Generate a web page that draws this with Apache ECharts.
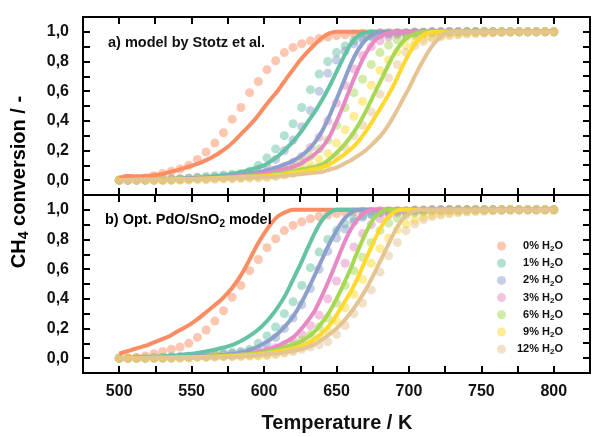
<!DOCTYPE html>
<html>
<head>
<meta charset="utf-8">
<script src="https://cdn.jsdelivr.net/npm/echarts@6/dist/echarts.min.js"></script>
<style>html,body{margin:0;padding:0;background:#fff}#c{width:592px;height:437px}</style>
</head>
<body>
<div id="c"></div>
<script>
// ---- Data ----
const seriesNames = ['0% H2O','1% H2O','2% H2O','3% H2O','6% H2O','9% H2O','12% H2O'];
const seriesColors = ['#fc8d62','#66c2a5','#8da0cb','#e78ac3','#a6d854','#ffd92f','#e5c494'];
const xMajorTicks = [500,550,600,650,700,750,800];
const xMinorTicks = [525,575,625,675,725,775];
const yMajorTicks = [0,0.2,0.4,0.6,0.8,1.0];
const yMinorTicks = [0.1,0.3,0.5,0.7,0.9];

// measured temperatures (K)
const tempMeas = [500,506,512,518,524,530,536,542,548,554,560,566,572,578,584,590,596,602,608,614,620,626,632,638,644,650,656,662,668,674,680,686,692,698,704,710,716,722,728,734,740,746,752,758,764,770,776,782,788,794,800];
// measured CH4 conversion
const meas0 = [0,0,0.005,0.015,0.03,0.045,0.06,0.075,0.10,0.14,0.19,0.25,0.32,0.41,0.49,0.59,0.665,0.745,0.805,0.86,0.895,0.92,0.94,0.955,0.965,0.975,0.98,0.985,0.99,0.99,0.995,0.995,0.995,0.995,1,1,1,1,1,1,1,1,1,1,1,1,1,1,1,1,1];
const meas1 = [0,0,0,0,0.005,0.005,0.01,0.01,0.015,0.02,0.025,0.03,0.035,0.04,0.045,0.06,0.10,0.15,0.21,0.30,0.38,0.49,0.61,0.715,0.80,0.86,0.905,0.94,0.96,0.97,0.98,0.985,0.99,0.99,0.995,0.995,1,1,1,1,1,1,1,1,1,1,1,1,1,1,1];
const meas2 = [0,0,0,0,0,0.005,0.005,0.01,0.01,0.015,0.015,0.02,0.025,0.03,0.035,0.045,0.06,0.09,0.14,0.20,0.27,0.36,0.47,0.60,0.72,0.81,0.87,0.92,0.95,0.97,0.98,0.985,0.99,0.99,0.995,0.995,1,1,1,1,1,1,1,1,1,1,1,1,1,1,1];
const meas3 = [0,0,0,0,0,0,0.005,0.005,0.01,0.01,0.01,0.015,0.015,0.02,0.025,0.03,0.04,0.055,0.07,0.09,0.12,0.16,0.22,0.29,0.40,0.52,0.64,0.75,0.84,0.90,0.94,0.965,0.98,0.985,0.99,0.99,0.995,0.995,1,1,1,1,1,1,1,1,1,1,1,1,1];
const meas6 = [0,0,0,0,0,0,0,0.005,0.005,0.01,0.01,0.015,0.015,0.02,0.02,0.025,0.03,0.035,0.05,0.07,0.09,0.12,0.16,0.21,0.27,0.37,0.49,0.59,0.68,0.78,0.86,0.91,0.945,0.965,0.975,0.985,0.99,0.99,0.995,0.995,1,1,1,1,1,1,1,1,1,1,1];
const meas9 = [0,0,0,0,0,0,0,0,0.005,0.005,0.005,0.01,0.01,0.01,0.015,0.015,0.02,0.02,0.03,0.04,0.055,0.075,0.10,0.14,0.18,0.25,0.34,0.43,0.53,0.64,0.74,0.81,0.865,0.905,0.93,0.95,0.965,0.975,0.98,0.985,0.99,0.99,0.995,0.995,1,1,1,1,1,1,1];
const meas12 = [0,0,0,0,0,0,0,0,0,0.005,0.005,0.005,0.01,0.01,0.01,0.015,0.015,0.02,0.025,0.035,0.045,0.06,0.075,0.09,0.11,0.16,0.22,0.30,0.37,0.46,0.58,0.69,0.78,0.86,0.905,0.935,0.955,0.965,0.975,0.98,0.985,0.99,0.99,0.995,0.995,1,1,1,1,1,1];

// model temperatures (K)
const tempModel = [500,505,510,515,520,525,530,535,540,545,550,555,560,565,570,575,580,585,590,595,600,605,610,615,620,625,630,635,640,645,650,655,660,665,670,675,680,685,690,695,700,705,710,715,720,725,730,735,740,745,750,755,760,765,770,775,780,785,790,795,800];
// a) model by Stotz et al.
const stotz0 = [0.015,0.028,0.027,0.027,0.03,0.035,0.042,0.055,0.068,0.082,0.097,0.113,0.135,0.16,0.19,0.225,0.27,0.32,0.37,0.425,0.49,0.55,0.61,0.68,0.745,0.81,0.865,0.915,0.96,0.99,1,1,1,1,1,1,1,1,1,1,1,1,1,1,1,1,1,1,1,1,1,1,1,1,1,1,1,1,1,1,1];
const stotz1 = [0,0.002,0.003,0.004,0.005,0.006,0.008,0.009,0.01,0.012,0.015,0.017,0.02,0.025,0.03,0.037,0.045,0.055,0.07,0.085,0.10,0.13,0.165,0.21,0.26,0.32,0.39,0.46,0.54,0.63,0.73,0.83,0.92,0.975,0.995,1,1,1,1,1,1,1,1,1,1,1,1,1,1,1,1,1,1,1,1,1,1,1,1,1,1];
const stotz2 = [0,0.001,0.002,0.003,0.004,0.005,0.006,0.007,0.008,0.009,0.01,0.012,0.014,0.017,0.02,0.025,0.03,0.037,0.045,0.052,0.06,0.075,0.09,0.11,0.13,0.16,0.20,0.255,0.33,0.43,0.545,0.665,0.785,0.88,0.945,0.98,1,1,1,1,1,1,1,1,1,1,1,1,1,1,1,1,1,1,1,1,1,1,1,1,1];
const stotz3 = [0,0.001,0.002,0.003,0.004,0.005,0.006,0.007,0.008,0.009,0.01,0.011,0.013,0.015,0.018,0.021,0.025,0.03,0.035,0.04,0.045,0.055,0.065,0.077,0.09,0.11,0.14,0.175,0.22,0.29,0.395,0.51,0.635,0.75,0.85,0.925,0.97,0.99,1,1,1,1,1,1,1,1,1,1,1,1,1,1,1,1,1,1,1,1,1,1,1];
const stotz6 = [0,0.001,0.002,0.003,0.004,0.004,0.005,0.006,0.007,0.008,0.009,0.01,0.012,0.014,0.016,0.018,0.02,0.023,0.026,0.028,0.03,0.037,0.045,0.052,0.06,0.07,0.08,0.09,0.105,0.14,0.185,0.235,0.295,0.37,0.46,0.56,0.66,0.76,0.855,0.925,0.97,0.99,1,1,1,1,1,1,1,1,1,1,1,1,1,1,1,1,1,1,1];
const stotz9 = [0,0.001,0.002,0.002,0.003,0.003,0.004,0.005,0.006,0.007,0.008,0.009,0.01,0.012,0.014,0.016,0.018,0.02,0.022,0.024,0.026,0.03,0.035,0.042,0.05,0.057,0.065,0.075,0.085,0.105,0.135,0.17,0.21,0.26,0.325,0.40,0.48,0.56,0.65,0.755,0.85,0.93,0.98,0.997,1,1,1,1,1,1,1,1,1,1,1,1,1,1,1,1,1];
const stotz12 = [0,0,0.001,0.002,0.002,0.003,0.003,0.004,0.005,0.006,0.007,0.008,0.009,0.01,0.012,0.013,0.015,0.016,0.018,0.019,0.02,0.022,0.025,0.03,0.035,0.04,0.045,0.05,0.055,0.07,0.085,0.11,0.135,0.165,0.20,0.245,0.295,0.36,0.44,0.53,0.62,0.72,0.81,0.89,0.95,0.99,1,1,1,1,1,1,1,1,1,1,1,1,1,1,1];
// b) Opt. PdO/SnO2 model
const opt0 = [0.03,0.045,0.06,0.075,0.09,0.11,0.13,0.15,0.18,0.205,0.235,0.27,0.31,0.35,0.39,0.44,0.50,0.575,0.665,0.76,0.84,0.91,0.96,0.985,1,1,1,1,1,1,1,1,1,1,1,1,1,1,1,1,1,1,1,1,1,1,1,1,1,1,1,1,1,1,1,1,1,1,1,1,1];
const opt1 = [0,0.002,0.004,0.006,0.008,0.01,0.013,0.016,0.02,0.025,0.03,0.037,0.045,0.055,0.067,0.08,0.097,0.12,0.15,0.185,0.23,0.285,0.35,0.43,0.53,0.63,0.74,0.845,0.93,0.98,1,1,1,1,1,1,1,1,1,1,1,1,1,1,1,1,1,1,1,1,1,1,1,1,1,1,1,1,1,1,1];
const opt2 = [0,0.001,0.002,0.003,0.004,0.005,0.006,0.007,0.008,0.009,0.01,0.012,0.015,0.017,0.02,0.025,0.03,0.04,0.055,0.075,0.10,0.13,0.17,0.22,0.28,0.36,0.455,0.56,0.665,0.77,0.86,0.935,0.98,1,1,1,1,1,1,1,1,1,1,1,1,1,1,1,1,1,1,1,1,1,1,1,1,1,1,1,1];
const opt3 = [0,0.001,0.001,0.002,0.002,0.003,0.004,0.005,0.006,0.007,0.008,0.009,0.01,0.012,0.015,0.017,0.02,0.025,0.03,0.04,0.05,0.065,0.085,0.11,0.14,0.19,0.25,0.32,0.42,0.53,0.65,0.77,0.87,0.94,0.985,1,1,1,1,1,1,1,1,1,1,1,1,1,1,1,1,1,1,1,1,1,1,1,1,1,1];
const opt6 = [0,0.001,0.001,0.002,0.002,0.003,0.003,0.004,0.005,0.006,0.007,0.008,0.01,0.012,0.014,0.017,0.02,0.024,0.028,0.034,0.04,0.05,0.06,0.075,0.09,0.11,0.14,0.18,0.24,0.31,0.40,0.50,0.61,0.73,0.84,0.93,0.98,1,1,1,1,1,1,1,1,1,1,1,1,1,1,1,1,1,1,1,1,1,1,1,1];
const opt9 = [0,0,0.001,0.001,0.002,0.002,0.003,0.003,0.004,0.005,0.006,0.007,0.008,0.01,0.011,0.013,0.015,0.018,0.021,0.025,0.03,0.037,0.045,0.055,0.065,0.08,0.10,0.13,0.17,0.22,0.29,0.37,0.45,0.55,0.66,0.77,0.87,0.945,0.985,1,1,1,1,1,1,1,1,1,1,1,1,1,1,1,1,1,1,1,1,1,1];
const opt12 = [0,0,0,0.001,0.001,0.002,0.002,0.003,0.003,0.004,0.004,0.005,0.005,0.006,0.007,0.008,0.01,0.013,0.016,0.02,0.025,0.03,0.035,0.042,0.05,0.06,0.075,0.095,0.125,0.16,0.20,0.25,0.31,0.38,0.46,0.55,0.65,0.75,0.85,0.93,0.975,0.995,1,1,1,1,1,1,1,1,1,1,1,1,1,1,1,1,1,1,1];

const measured = [meas0,meas1,meas2,meas3,meas6,meas9,meas12];
const modelA = [stotz0,stotz1,stotz2,stotz3,stotz6,stotz9,stotz12];
const modelB = [opt0,opt1,opt2,opt3,opt6,opt9,opt12];

// ---- Chart ----
const FONT = '"Liberation Sans", Arial, Helvetica, sans-serif';
const X_MIN = 475, X_MAX = 825, Y_MIN = -0.1, Y_MAX = 1.1;
const chart = echarts.init(document.getElementById('c'));

const grids = [
  {left: 83, top: 17, width: 507, height: 178, show: true, borderColor: '#000', borderWidth: 2},
  {left: 83, top: 195, width: 507, height: 178, show: true, borderColor: '#000', borderWidth: 2}
];
const tickStyle = {show: true, inside: true, length: 7, lineStyle: {color: '#000', width: 2}};

// main axes: ticks every 25 K / 0.1 (min is a multiple of the interval)
const xAxes = [0, 1].map(g => ({
  gridIndex: g, type: 'value', min: X_MIN, max: X_MAX, interval: 25,
  axisLine: {show: false, onZero: false}, axisTick: tickStyle, splitLine: {show: false},
  axisLabel: g === 1 ? {show: true, customValues: xMajorTicks, color: '#111', fontFamily: FONT, fontWeight: 'bold', fontSize: 16, margin: 11, formatter: v => String(v)} : {show: false}
}));
const yAxes = [0, 1].map(g => ({
  gridIndex: g, type: 'value', min: Y_MIN, max: Y_MAX, interval: 0.1,
  axisLine: {show: false, onZero: false}, axisTick: tickStyle, splitLine: {show: false},
  axisLabel: {show: true, customValues: yMajorTicks, color: '#111', fontFamily: FONT, fontWeight: 'bold', fontSize: 16, margin: 14,
    formatter: v => v.toFixed(1).replace('.', ',')}
}));

const series = [];
for (let g = 0; g < 2; g++) {
  for (let k = 0; k < seriesNames.length; k++) {
    series.push({
      name: seriesNames[k], type: 'scatter', xAxisIndex: g, yAxisIndex: g,
      data: tempMeas.map((t, i) => [t, measured[k][i]]),
      symbol: 'circle', symbolSize: 9,
      itemStyle: {color: seriesColors[k], opacity: 0.5}
    });
  }
  const models = g === 0 ? modelA : modelB;
  for (let k = 0; k < seriesNames.length; k++) {
    series.push({
      name: (g === 0 ? 'Stotz ' : 'Opt ') + seriesNames[k], type: 'line', xAxisIndex: g, yAxisIndex: g,
      data: tempModel.map((t, i) => [t, models[k][i]]),
      showSymbol: false, symbol: 'none', smooth: 0.25,
      lineStyle: {color: seriesColors[k], width: 4}, itemStyle: {color: seriesColors[k]}
    });
  }
}

const subRich = {
  b: {fontFamily: FONT, fontWeight: 'bold', fontSize: 20, color: '#111', lineHeight: 24},
  s: {fontFamily: FONT, fontWeight: 'bold', fontSize: 14, color: '#111', lineHeight: 9, verticalAlign: 'bottom'}
};
const texts = [
  {id: 't0', type: 'text', x: 19, y: 182, rotation: Math.PI / 2, z: 100,
   style: {text: '{b|CH}{s|4}{b| conversion / -}', rich: subRich, align: 'center', verticalAlign: 'middle'}},
  {id: 't1', type: 'text', x: 337, y: 423, z: 100,
   style: {text: 'Temperature / K', fontFamily: FONT, fontWeight: 'bold', fontSize: 20, fill: '#111', align: 'center', verticalAlign: 'middle'}},
  {id: 't2', type: 'text', x: 108, y: 43, z: 100,
   style: {text: 'a) model by Stotz et al.', fontFamily: FONT, fontWeight: 'bold', fontSize: 14.5, fill: '#111', align: 'left', verticalAlign: 'middle'}},
  {id: 't3', type: 'text', x: 105, y: 220, z: 100,
   style: {text: '{b|b) Opt. PdO/SnO}{s|2}{b| model}', align: 'left', verticalAlign: 'middle',
     rich: {
       b: {fontFamily: FONT, fontWeight: 'bold', fontSize: 14.5, color: '#111', lineHeight: 18},
       s: {fontFamily: FONT, fontWeight: 'bold', fontSize: 10, color: '#111', lineHeight: 6, verticalAlign: 'bottom'}
     }}}
];

chart.setOption({
  animation: false,
  grid: grids,
  xAxis: xAxes,
  yAxis: yAxes,
  legend: {
    data: seriesNames.map(n => ({name: n, itemStyle: {opacity: 0.5}})),
    orient: 'vertical', left: 492, top: 234, itemWidth: 9, itemHeight: 9, itemGap: 3.2,
    icon: 'circle', selectedMode: false,
    formatter: n => '{p|' + n.split(' ')[0] + ' H}{s|2}{p|O}',
    textStyle: {
      fontFamily: FONT, fontWeight: 'bold', fontSize: 11, color: '#111', lineHeight: 14, width: 52,
      rich: {
        p: {fontFamily: FONT, fontWeight: 'bold', fontSize: 11, color: '#111', lineHeight: 14, align: 'right'},
        s: {fontFamily: FONT, fontWeight: 'bold', fontSize: 8, color: '#111', lineHeight: 6, verticalAlign: 'bottom', align: 'right'}
      }
    }
  },
  graphic: texts,
  series: series
});

// Extra inward tick marks on the top and right frames, positioned through the axes' own scales
try {
  const ticks = [];
  let n = 0;
  const line = (x1, y1, x2, y2) => ({id: 'k' + (n++), type: 'line', z: 50, shape: {x1: x1, y1: y1, x2: x2, y2: y2}, style: {stroke: '#000', lineWidth: 2}});
  for (let g = 0; g < 2; g++) {
    const lt = chart.convertToPixel({gridIndex: g}, [X_MIN, Y_MAX]);
    const rb = chart.convertToPixel({gridIndex: g}, [X_MAX, Y_MIN]);
    const top = Math.round(lt[1]), right = Math.round(rb[0]);
    xMajorTicks.concat(xMinorTicks).forEach(v => {
      const px = Math.round(chart.convertToPixel({gridIndex: g}, [v, 0])[0]);
      ticks.push(line(px, top, px, top + 7));
    });
    yMajorTicks.concat(yMinorTicks).forEach(v => {
      const py = Math.round(chart.convertToPixel({gridIndex: g}, [X_MIN, v])[1]);
      ticks.push(line(right, py, right - 7, py));
    });
  }
  chart.setOption({graphic: ticks});
} catch (e) { /* keep chart without extra ticks */ }
</script>
</body>
</html>
